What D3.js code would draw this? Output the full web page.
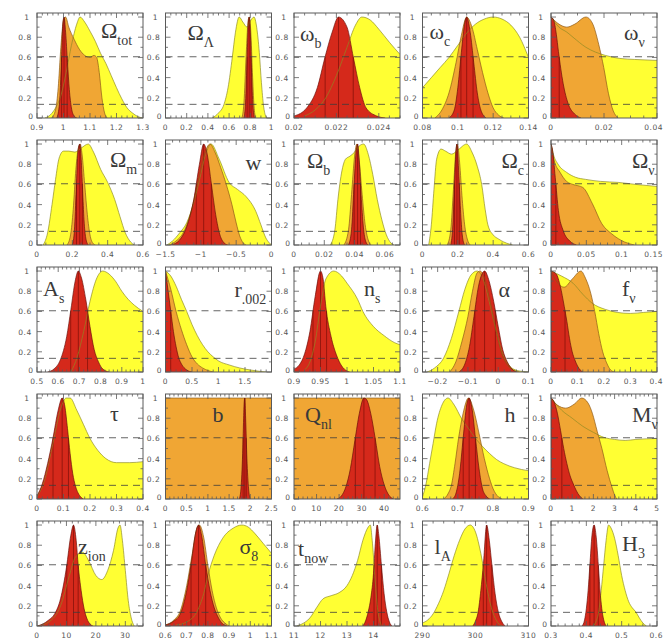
<!DOCTYPE html>
<html><head><meta charset="utf-8">
<script src="https://cdn.jsdelivr.net/npm/d3@7"></script>
<style>body{margin:0;background:#fff}svg{display:block}</style>
</head><body><svg id="chart" width="664" height="644"></svg>
<script>
// ---------- data: 1-D likelihood curves, [parameter value, relative likelihood] ----------
// Row 1
const omTot_y = [[0.93,0],[0.95,0.03],[0.97,0.1],[0.99,0.22],[1.01,0.45],[1.03,0.72],[1.05,0.93],[1.0625,1.0],[1.08,0.95],[1.1,0.86],[1.12,0.76],[1.14,0.64],[1.16,0.54],[1.18,0.42],[1.2,0.3],[1.22,0.19],[1.24,0.1],[1.26,0.05],[1.28,0.015],[1.3,0]];
const omTot_o = [[0.955,0],[0.97,0.08],[0.98,0.3],[0.99,0.7],[1.0,0.97],[1.008,1.0],[1.02,0.9],[1.04,0.78],[1.06,0.68],[1.08,0.62],[1.1,0.6],[1.115,0.62],[1.125,0.6],[1.135,0.45],[1.145,0.2],[1.155,0.05],[1.165,0]];
const omTot_r = [[0.975,0],[0.985,0.15],[0.992,0.55],[0.998,0.95],[1.002,1.0],[1.008,0.85],[1.015,0.55],[1.022,0.28],[1.03,0.1],[1.04,0.02],[1.05,0]];
const omLam_y = [[0.44,0],[0.5,0.05],[0.55,0.13],[0.59,0.3],[0.63,0.6],[0.66,0.85],[0.695,1.0],[0.73,0.95],[0.77,0.9],[0.8,0.96],[0.835,1.0],[0.86,0.9],[0.885,0.65],[0.905,0.35],[0.925,0.12],[0.945,0.02],[0.96,0]];
const omLam_o = [[0.72,0],[0.74,0.15],[0.76,0.6],[0.78,0.97],[0.79,1.0],[0.805,0.85],[0.82,0.45],[0.835,0.12],[0.85,0]];
const omLam_r = [[0.74,0],[0.755,0.15],[0.77,0.6],[0.782,0.95],[0.79,1.0],[0.8,0.85],[0.812,0.45],[0.825,0.12],[0.84,0]];
const wb_y = [[0.0205,0.02],[0.021,0.08],[0.0215,0.2],[0.022,0.42],[0.0225,0.7],[0.0229,0.92],[0.0232,1.0],[0.0236,0.97],[0.024,0.88],[0.0245,0.75],[0.025,0.63]];
const wb_r = [[0.02,0.02],[0.0206,0.1],[0.0211,0.3],[0.02146,0.6],[0.0218,0.85],[0.0221,1.0],[0.0225,0.9],[0.0228,0.6],[0.0231,0.3],[0.0234,0.1],[0.0239,0.02],[0.0243,0]];
const wc_y = [[0.08,0.3],[0.085,0.4],[0.09,0.5],[0.095,0.6],[0.1,0.72],[0.105,0.84],[0.11,0.93],[0.115,0.98],[0.12,1.0],[0.125,0.98],[0.13,0.92],[0.135,0.8],[0.14,0.6]];
const wc_o = [[0.087,0],[0.091,0.08],[0.095,0.25],[0.099,0.55],[0.102,0.82],[0.105,1.0],[0.108,0.9],[0.111,0.68],[0.114,0.45],[0.117,0.25],[0.12,0.1],[0.123,0.03],[0.126,0]];
const wc_r = [[0.095,0],[0.098,0.08],[0.1,0.3],[0.102,0.65],[0.104,0.95],[0.105,1.0],[0.107,0.85],[0.109,0.55],[0.111,0.25],[0.113,0.08],[0.116,0]];
const wnu_y = [[0,1],[0.003,0.9],[0.006,0.85],[0.0083,0.8],[0.0132,0.7],[0.0205,0.62],[0.026,0.59],[0.0315,0.58],[0.04,0.57]];
const wnu_o = [[0,1],[0.003,0.93],[0.006,0.9],[0.009,0.93],[0.0132,1.0],[0.0156,0.94],[0.018,0.73],[0.0199,0.5],[0.0217,0.24],[0.0235,0.07],[0.0254,0]];
const wnu_r = [[0,1],[0.001,0.97],[0.002,0.83],[0.0028,0.66],[0.0046,0.34],[0.0065,0.14],[0.0089,0.04],[0.0113,0]];
// Row 2
const omM_y = [[0.035,0],[0.06,0.12],[0.085,0.4],[0.105,0.65],[0.125,0.86],[0.15,0.93],[0.18,0.93],[0.215,0.92],[0.25,0.96],[0.29,1.0],[0.32,0.92],[0.36,0.75],[0.4,0.62],[0.44,0.45],[0.47,0.28],[0.5,0.12],[0.53,0.03],[0.55,0]];
const omM_o = [[0.17,0],[0.19,0.1],[0.205,0.35],[0.22,0.75],[0.235,0.97],[0.245,1.0],[0.255,0.9],[0.27,0.6],[0.285,0.3],[0.3,0.1],[0.315,0.02],[0.33,0]];
const omM_r = [[0.2,0],[0.212,0.15],[0.222,0.55],[0.232,0.92],[0.242,1.0],[0.25,0.85],[0.258,0.55],[0.266,0.25],[0.276,0.07],[0.29,0]];
const w_y = [[-1.48,0],[-1.4,0.04],[-1.3,0.12],[-1.2,0.22],[-1.1,0.42],[-1.02,0.64],[-0.93,0.9],[-0.855,1.0],[-0.74,0.85],[-0.6,0.62],[-0.48,0.55],[-0.36,0.48],[-0.22,0.33],[-0.15,0.2],[-0.08,0.07],[-0.03,0.02],[0,0]];
const w_o = [[-1.45,0],[-1.35,0.04],[-1.25,0.12],[-1.15,0.3],[-1.05,0.6],[-0.95,0.9],[-0.87,1.0],[-0.8,0.92],[-0.72,0.77],[-0.64,0.6],[-0.56,0.4],[-0.5,0.22],[-0.45,0.09],[-0.4,0.02],[-0.36,0]];
const w_r = [[-1.42,0],[-1.3,0.05],[-1.2,0.18],[-1.1,0.45],[-1.02,0.8],[-0.96,1.0],[-0.91,0.9],[-0.85,0.6],[-0.79,0.3],[-0.73,0.1],[-0.67,0.02],[-0.62,0]];
const omB_y = [[0.024,0],[0.027,0.15],[0.029,0.45],[0.031,0.68],[0.034,0.85],[0.037,0.88],[0.04,0.92],[0.043,0.98],[0.046,1.0],[0.049,0.9],[0.052,0.7],[0.055,0.45],[0.058,0.25],[0.061,0.1],[0.064,0.02],[0.066,0]];
const omB_o = [[0.033,0],[0.036,0.15],[0.038,0.5],[0.04,0.88],[0.0415,1.0],[0.043,0.85],[0.045,0.5],[0.047,0.2],[0.049,0.05],[0.051,0]];
const omB_r = [[0.036,0],[0.038,0.15],[0.0395,0.55],[0.041,0.92],[0.042,1.0],[0.0432,0.8],[0.0445,0.45],[0.046,0.15],[0.0475,0.03],[0.049,0]];
const omC_y = [[0.035,0],[0.05,0.2],[0.065,0.55],[0.08,0.85],[0.105,0.95],[0.13,0.93],[0.165,0.9],[0.2,0.94],[0.25,1.0],[0.28,0.92],[0.31,0.78],[0.335,0.6],[0.355,0.35],[0.37,0.2],[0.4,0.1],[0.43,0.06],[0.46,0.03],[0.49,0.01],[0.51,0]];
const omC_o = [[0.14,0],[0.16,0.15],[0.175,0.55],[0.19,0.95],[0.198,1.0],[0.21,0.82],[0.225,0.45],[0.24,0.18],[0.255,0.05],[0.27,0]];
const omC_r = [[0.16,0],[0.172,0.2],[0.182,0.65],[0.192,0.98],[0.195,1.0],[0.205,0.72],[0.215,0.35],[0.225,0.1],[0.238,0]];
const omNu_y = [[0,1],[0.0037,0.89],[0.01,0.8],[0.022,0.72],[0.035,0.67],[0.049,0.65],[0.07,0.63],[0.095,0.62],[0.12,0.6],[0.15,0.58]];
const omNu_o = [[0,1],[0.004,0.85],[0.0128,0.72],[0.022,0.63],[0.031,0.6],[0.045,0.57],[0.0585,0.41],[0.072,0.21],[0.086,0.11],[0.104,0.03],[0.118,0]];
const omNu_r = [[0,1],[0.002,0.95],[0.006,0.67],[0.0105,0.34],[0.0174,0.14],[0.0265,0.04],[0.036,0]];
// Row 3
const As_y = [[0.66,0],[0.69,0.15],[0.72,0.4],[0.75,0.7],[0.78,0.92],[0.81,1.0],[0.84,0.97],[0.87,0.9],[0.9,0.8],[0.93,0.72],[0.96,0.66],[1.0,0.6]];
const As_r = [[0.55,0],[0.58,0.03],[0.61,0.12],[0.64,0.35],[0.66,0.62],[0.68,0.9],[0.695,1],[0.71,0.93],[0.73,0.72],[0.75,0.45],[0.77,0.22],[0.79,0.1],[0.81,0.03],[0.84,0]];
const r_y = [[0,1],[0.1,0.95],[0.2,0.85],[0.3,0.72],[0.4,0.6],[0.5,0.47],[0.6,0.36],[0.7,0.27],[0.8,0.2],[0.9,0.15],[1.0,0.11],[1.2,0.07],[1.4,0.04],[1.6,0.02],[1.8,0.005],[1.9,0]];
const r_o = [[0,1],[0.1,0.82],[0.2,0.6],[0.3,0.42],[0.4,0.27],[0.5,0.15],[0.6,0.08],[0.7,0.04],[0.8,0.015],[0.9,0]];
const r_r = [[0,1],[0.05,0.8],[0.1,0.6],[0.15,0.4],[0.2,0.25],[0.25,0.14],[0.3,0.08],[0.4,0.02],[0.5,0]];
const ns_y = [[0.92,0.02],[0.93,0.1],[0.94,0.3],[0.95,0.65],[0.96,0.92],[0.975,1],[0.99,0.95],[1.0,0.88],[1.02,0.72],[1.03,0.6],[1.05,0.45],[1.07,0.36],[1.09,0.29],[1.1,0.27]];
const ns_r = [[0.9,0.03],[0.91,0.07],[0.92,0.18],[0.93,0.4],[0.94,0.75],[0.95,1],[0.955,0.92],[0.96,0.65],[0.97,0.35],[0.98,0.17],[0.99,0.06],[1.0,0.01],[1.005,0]];
const alpha_y = [[-0.235,0],[-0.21,0.04],[-0.18,0.14],[-0.155,0.33],[-0.13,0.6],[-0.11,0.82],[-0.09,0.96],[-0.07,1.0],[-0.05,0.92],[-0.03,0.7],[-0.01,0.45],[0.01,0.22],[0.03,0.09],[0.05,0.03],[0.08,0.005],[0.1,0]];
const alpha_o = [[-0.16,0],[-0.14,0.1],[-0.12,0.3],[-0.1,0.55],[-0.085,0.8],[-0.07,0.98],[-0.06,1.0],[-0.045,0.93],[-0.03,0.75],[-0.01,0.45],[0.01,0.2],[0.03,0.07],[0.05,0.02],[0.07,0]];
const alpha_r = [[-0.13,0],[-0.11,0.08],[-0.095,0.25],[-0.08,0.55],[-0.065,0.85],[-0.045,1.0],[-0.03,0.9],[-0.015,0.7],[0.0,0.45],[0.015,0.22],[0.03,0.1],[0.045,0.03],[0.06,0]];
const fnu_y = [[0,1],[0.04,0.95],[0.083,0.88],[0.12,0.77],[0.156,0.68],[0.205,0.62],[0.25,0.59],[0.3,0.58],[0.35,0.59],[0.4,0.6]];
const fnu_o = [[0,1],[0.02,0.9],[0.05,0.84],[0.08,0.92],[0.113,1.0],[0.13,0.93],[0.15,0.78],[0.165,0.6],[0.18,0.38],[0.195,0.2],[0.21,0.09],[0.225,0.02],[0.24,0]];
const fnu_r = [[0,1],[0.02,0.97],[0.035,0.85],[0.05,0.65],[0.06,0.5],[0.07,0.33],[0.08,0.2],[0.09,0.12],[0.1,0.06],[0.11,0.02],[0.12,0]];
// Row 4
const tau_y = [[0,0.02],[0.03,0.2],[0.06,0.55],[0.09,0.9],[0.11,1.0],[0.125,1.0],[0.15,0.88],[0.175,0.74],[0.2,0.6],[0.23,0.48],[0.26,0.4],[0.3,0.36],[0.35,0.36],[0.4,0.37]];
const tau_r = [[0,0.03],[0.02,0.15],[0.04,0.35],[0.06,0.6],[0.08,0.88],[0.095,1],[0.105,0.92],[0.115,0.7],[0.125,0.45],[0.135,0.25],[0.145,0.13],[0.155,0.06],[0.165,0.02],[0.175,0]];
const bias_o = [[0,1],[2.5,1]];
const bias_r = [[1.74,0],[1.78,0.1],[1.82,0.45],[1.855,0.95],[1.87,1],[1.89,0.8],[1.92,0.4],[1.96,0.1],[2.0,0]];
const qnl_o = [[0,1],[47,1]];
const qnl_r = [[19,0],[21,0.03],[23,0.12],[25,0.3],[27,0.58],[29,0.85],[31,1.0],[32,0.99],[34,0.85],[36,0.6],[38,0.32],[40,0.14],[42,0.04],[44,0]];
const h_y = [[0.6,0.02],[0.61,0.15],[0.62,0.35],[0.63,0.55],[0.64,0.75],[0.655,0.93],[0.672,1],[0.69,0.93],[0.71,0.8],[0.73,0.7],[0.75,0.6],[0.77,0.52],[0.79,0.45],[0.81,0.39],[0.83,0.35],[0.86,0.31],[0.9,0.28]];
const h_o = [[0.66,0],[0.672,0.05],[0.682,0.14],[0.692,0.35],[0.702,0.6],[0.715,0.85],[0.73,1.0],[0.745,0.88],[0.76,0.65],[0.775,0.4],[0.79,0.2],[0.8,0.1],[0.815,0.02],[0.825,0]];
const h_r = [[0.685,0],[0.695,0.06],[0.705,0.25],[0.715,0.6],[0.725,0.93],[0.732,1],[0.74,0.9],[0.75,0.6],[0.76,0.3],[0.77,0.1],[0.78,0.03],[0.79,0]];
const mnu_y = [[0,1],[0.5,0.88],[1,0.8],[1.5,0.72],[2,0.66],[2.5,0.61],[3,0.59],[3.5,0.58],[4,0.59],[5,0.6]];
const mnu_o = [[0,1],[0.3,0.93],[0.7,0.9],[1.1,0.94],[1.45,1.0],[1.75,0.95],[1.95,0.85],[2.18,0.67],[2.4,0.5],[2.65,0.28],[2.87,0.12],[3.0,0.04],[3.1,0]];
const mnu_r = [[0,1],[0.15,0.96],[0.3,0.85],[0.45,0.68],[0.6,0.5],[0.75,0.35],[0.9,0.23],[1.05,0.15],[1.2,0.08],[1.35,0.03],[1.5,0]];
// Row 5
const zion_y = [[0,0],[4,0.04],[8,0.2],[11,0.5],[13,0.68],[15.5,0.73],[17.5,0.65],[20,0.5],[22,0.46],[24,0.55],[26,0.75],[27.5,0.97],[28.2,1.0],[29,0.85],[30,0.55],[31,0.25],[32,0.08],[33,0]];
const zion_r = [[0,0],[2,0.02],[4,0.06],[6,0.12],[8,0.27],[10,0.58],[11.5,0.9],[12.4,1.0],[13.3,0.85],[14,0.6],[15,0.35],[16,0.17],[17,0.07],[18,0.02],[19,0]];
const s8_y = [[0.65,0.01],[0.7,0.04],[0.75,0.15],[0.78,0.32],[0.8,0.5],[0.83,0.7],[0.87,0.87],[0.92,0.97],[0.96,1.0],[0.99,0.98],[1.02,0.92],[1.06,0.82],[1.1,0.72]];
const s8_o = [[0.6,0.01],[0.64,0.06],[0.67,0.15],[0.7,0.4],[0.725,0.7],[0.75,0.98],[0.76,1.0],[0.78,0.88],[0.8,0.6],[0.82,0.35],[0.84,0.18],[0.86,0.08],[0.88,0.03],[0.9,0]];
const s8_r = [[0.6,0.01],[0.64,0.05],[0.67,0.12],[0.7,0.35],[0.72,0.6],[0.74,0.9],[0.756,1],[0.77,0.9],[0.79,0.6],[0.81,0.35],[0.83,0.18],[0.85,0.08],[0.87,0.02],[0.89,0]];
const tnow_y = [[11.1,0],[11.3,0.02],[11.6,0.08],[11.85,0.18],[12.1,0.27],[12.4,0.3],[12.7,0.33],[13.0,0.4],[13.2,0.5],[13.4,0.65],[13.6,0.85],[13.8,0.98],[13.88,1.0],[13.95,0.85],[14.05,0.5],[14.15,0.18],[14.25,0.04],[14.32,0]];
const tnow_r = [[13.6,0],[13.7,0.05],[13.8,0.14],[13.9,0.28],[14.0,0.52],[14.07,0.82],[14.14,1.0],[14.2,0.9],[14.3,0.6],[14.4,0.32],[14.5,0.14],[14.6,0.04],[14.7,0]];
const lA_y = [[290,0.03],[291,0.06],[292,0.12],[293,0.22],[294,0.35],[295,0.52],[296,0.7],[297,0.85],[298,0.96],[299,1.0],[300,0.93],[301,0.72],[302,0.42],[303,0.18],[304,0.05],[305,0]];
const lA_r = [[299.5,0],[300,0.05],[300.5,0.14],[301,0.35],[301.5,0.62],[302.1,1.0],[302.6,0.85],[303.1,0.6],[303.7,0.32],[304.3,0.14],[305,0.04],[305.6,0]];
const H3_y = [[0.42,0],[0.428,0.05],[0.435,0.14],[0.442,0.35],[0.449,0.6],[0.456,0.85],[0.463,1.0],[0.47,0.97],[0.48,0.87],[0.49,0.7],[0.5,0.5],[0.51,0.35],[0.52,0.24],[0.53,0.18],[0.54,0.14],[0.55,0.08],[0.56,0.03],[0.57,0]];
const H3_r = [[0.388,0],[0.395,0.06],[0.4,0.17],[0.405,0.35],[0.41,0.6],[0.416,0.9],[0.422,1.0],[0.428,0.88],[0.434,0.6],[0.44,0.3],[0.445,0.14],[0.45,0.05],[0.456,0]];

// panel order (row by row), symbols, ranges and tick values
const symbols   = ["Ω","Ω","ω","ω","ω", "Ω","w","Ω","Ω","Ω", "A","r","n","α","f", "τ","b","Q","h","M", "z","σ","t","l","H"];
const subscripts= ["tot","Λ","b","c","ν", "m","","b","c","ν", "s",".002","s","","ν", "","","nl","","ν", "ion","8","now","A","3"];
const xDomains  = [[0.9,1.3],[0,1],[0.02,0.025],[0.08,0.14],[0,0.04],
                   [0,0.6],[-1.5,0],[0,0.07],[0,0.6],[0,0.15],
                   [0.5,1],[0,2],[0.9,1.1],[-0.25,0.1],[0,0.4],
                   [0,0.4],[0,2.5],[0,47],[0.6,0.9],[0,5],
                   [0,36],[0.6,1.1],[11,15],[290,310],[0.3,0.6]];
const xTickValues = [[0.9,1,1.1,1.2,1.3],[0,0.2,0.4,0.6,0.8,1],[0.02,0.022,0.024],[0.08,0.1,0.12,0.14],[0,0.02,0.04],
                     [0,0.2,0.4,0.6],[-1.5,-1,-0.5,0],[0,0.02,0.04,0.06],[0,0.2,0.4,0.6],[0,0.05,0.1,0.15],
                     [0.5,0.6,0.7,0.8,0.9,1],[0,0.5,1,1.5],[0.9,0.95,1,1.05,1.1],[-0.2,-0.1,0,0.1],[0,0.1,0.2,0.3,0.4],
                     [0,0.1,0.2,0.3,0.4],[0,0.5,1,1.5,2,2.5],[0,10,20,30,40],[0.6,0.7,0.8,0.9],[0,1,2,3,4,5],
                     [0,10,20,30],[0.6,0.7,0.8,0.9,1,1.1],[11,12,13,14],[290,300,310],[0.3,0.4,0.5,0.6]];
const yellowCurves = [omTot_y,omLam_y,wb_y,wc_y,wnu_y, omM_y,w_y,omB_y,omC_y,omNu_y, As_y,r_y,ns_y,alpha_y,fnu_y, tau_y,null,null,h_y,mnu_y, zion_y,s8_y,tnow_y,lA_y,H3_y];
const orangeCurves = [omTot_o,omLam_o,null,wc_o,wnu_o, omM_o,w_o,omB_o,omC_o,omNu_o, null,r_o,null,alpha_o,fnu_o, null,bias_o,qnl_o,h_o,mnu_o, null,s8_o,null,null,null];
const redCurves    = [omTot_r,omLam_r,wb_r,wc_r,wnu_r, omM_r,w_r,omB_r,omC_r,omNu_r, As_r,r_r,ns_r,alpha_r,fnu_r, tau_r,bias_r,qnl_r,h_r,mnu_r, zion_r,s8_r,tnow_r,lA_r,H3_r];
const yTickValues = [0,0.2,0.4,0.6,0.8,1];
const sigmaLevels = [Math.exp(-0.5), Math.exp(-2)];   // 1σ and 2σ likelihood ratios

// ---------- layout ----------
const SVG_W = 664;
const PW = 106, PH = 105, LEFT0 = 37, TOP0 = 13, COLSTEP = 128.5, ROWSTEP = 127;
// symbol placement inside each panel: [dx from left, baseline from top]
const titlePos = [[64,25],[22,27],[6,28],[7,26],[73,27],
                  [73,27],[80,30],[13,28],[79,28],[81,28],
                  [6,29],[69,30],[70,29],[76,30],[71,29],
                  [73,27],[47,28],[11,28],[82,28],[81,28],
                  [41,33],[74,33],[4,35],[12,33],[71,30]];

const COL = {yellow:"#ffff33", orange:"#f0a634", red:"#d5291b",
             yellowLine:"#8d8a22", orangeLine:"#8a5816", redLine:"#6a0e08"};

const svg = d3.select("#chart");
const y = d3.scaleLinear().domain([0, 1.04]).range([PH, 0]);

function fmt(v){
  const s = String(+v.toFixed(5));
  return s.replace("-", "\u2212");
}
function valueAt(curve, xv){
  for (let k = 1; k < curve.length; k++){
    const [x0,y0] = curve[k-1], [x1,y1] = curve[k];
    if (xv >= x0 && xv <= x1) return y0 + (y1-y0)*(xv-x0)/(x1-x0);
  }
  return 0;
}
// peak and 1σ crossings of a curve
function markers(curve){
  let iMax = 0;
  curve.forEach((d,i)=>{ if (d[1] > curve[iMax][1]) iMax = i; });
  const lvl = sigmaLevels[0], out = [curve[iMax][0]];
  for (let k = 1; k <= iMax; k++){
    const [x0,y0] = curve[k-1], [x1,y1] = curve[k];
    if (y0 < lvl && y1 >= lvl){ out.push(x0 + (lvl-y0)*(x1-x0)/(y1-y0)); break; }
  }
  for (let k = iMax+1; k < curve.length; k++){
    const [x0,y0] = curve[k-1], [x1,y1] = curve[k];
    if (y0 >= lvl && y1 < lvl){ out.push(x0 + (y0-lvl)*(x1-x0)/(y0-y1)); break; }
  }
  return out;
}
function minorStep(step){
  const e = Math.pow(10, Math.floor(Math.log10(step) + 1e-9));
  const lead = Math.round(step / e);
  return lead === 2 ? step/4 : step/5;
}

symbols.forEach((sym, i) => {
  const col = i % 5, row = Math.floor(i / 5);
  const gx = LEFT0 + col*COLSTEP, gy = TOP0 + row*ROWSTEP;
  const g = svg.append("g").attr("transform", `translate(${gx},${gy})`);
  const x = d3.scaleLinear().domain(xDomains[i]).range([0, PW]);

  g.append("clipPath").attr("id", "clip" + i)
    .append("rect").attr("width", PW).attr("height", PH);
  const plot = g.append("g").attr("clip-path", `url(#clip${i})`);

  const area = d3.area().x(d => x(d[0])).y0(y(0)).y1(d => y(d[1])).curve(d3.curveMonotoneX);
  const line = d3.line().x(d => x(d[0])).y(d => y(d[1])).curve(d3.curveMonotoneX);

  const layers = [[yellowCurves[i], COL.yellow, COL.yellowLine],
                  [orangeCurves[i], COL.orange, COL.orangeLine],
                  [redCurves[i], COL.red, COL.redLine]];
  layers.forEach(([c, fill]) => { if (c) plot.append("path").datum(c).attr("d", area).attr("fill", fill); });

  // median and 1σ lines under the red curve
  const rc = redCurves[i];
  markers(rc).forEach(xv => {
    plot.append("line").attr("x1", x(xv)).attr("x2", x(xv))
      .attr("y1", y(0)).attr("y2", y(valueAt(rc, xv)))
      .attr("stroke", "#7d1008").attr("stroke-width", 0.7);
  });

  layers.forEach(([c, , stroke]) => {
    if (c) plot.append("path").datum(c).attr("d", line).attr("fill", "none")
      .attr("stroke", stroke).attr("stroke-width", 0.8).attr("stroke-opacity", 0.85);
  });

  // 1σ / 2σ reference levels
  sigmaLevels.forEach(l => {
    plot.append("line").attr("x1", 0).attr("x2", PW).attr("y1", y(l)).attr("y2", y(l))
      .attr("stroke", "#3c3c3c").attr("stroke-width", 0.8).attr("stroke-dasharray", "7,5");
  });

  // frame
  g.append("rect").attr("width", PW).attr("height", PH)
    .attr("fill", "none").attr("stroke", "#5a5a5a").attr("stroke-width", 1);

  // ticks (inward on all four sides)
  const ticks = xTickValues[i];
  const step = ticks[1] - ticks[0];
  const mstep = minorStep(step);
  const [d0, d1] = xDomains[i];
  const minors = d3.range(Math.ceil(d0/mstep - 1e-6), Math.floor(d1/mstep + 1e-6) + 1).map(k => k*mstep);
  const tk = g.append("g").attr("stroke", "#5a5a5a").attr("stroke-width", 0.8);
  minors.forEach(v => {
    const isMajor = ticks.some(t => Math.abs(t - v) < mstep*0.01);
    const len = isMajor ? 5 : 2.5;
    tk.append("line").attr("x1", x(v)).attr("x2", x(v)).attr("y1", PH).attr("y2", PH - len);
    tk.append("line").attr("x1", x(v)).attr("x2", x(v)).attr("y1", 0).attr("y2", len);
  });
  d3.range(0, 1.001, 0.1).forEach(v => {
    const len = Math.round(v*10) % 2 === 0 ? 5 : 2.5;
    tk.append("line").attr("x1", 0).attr("x2", len).attr("y1", y(v)).attr("y2", y(v));
    tk.append("line").attr("x1", PW).attr("x2", PW - len).attr("y1", y(v)).attr("y2", y(v));
  });

  // tick labels
  const lab = g.append("g").attr("font-family", "DejaVu Sans, sans-serif").attr("font-size", 7.5)
    .attr("fill", "#555").attr("letter-spacing", 0.5);
  ticks.forEach(v => {
    const t = lab.append("text").attr("x", x(v)).attr("y", PH + 12).attr("text-anchor", "middle").text(fmt(v));
    // keep labels at the right border inside the page
    const half = t.node().getComputedTextLength() / 2;
    const maxX = SVG_W - 1 - gx;
    if (x(v) + half > maxX) t.attr("text-anchor", "end").attr("x", maxX);
  });
  yTickValues.forEach(v => {
    const xx = v === 0 ? -6 : (v === 1 ? -10 : -12);
    lab.append("text").attr("x", xx).attr("y", v === 0 ? y(v) + 1 : y(v) + 3)
      .attr("text-anchor", "middle").text(fmt(v));
  });

  // parameter symbol
  const [tx, ty] = titlePos[i];
  const t = g.append("text").attr("x", tx).attr("y", ty)
    .attr("font-family", "Liberation Serif, serif").attr("fill", "#3a3a3a");
  t.append("tspan").attr("font-size", 22).text(sym);
  if (subscripts[i]) t.append("tspan").attr("font-size", 14).attr("dy", 7).text(subscripts[i]);
  // keep the symbol block inside the page
  const over = gx + t.node().getBBox().x + t.node().getBBox().width - (SVG_W - 2);
  if (over > 0) t.attr("x", tx - over);
});
</script>
</body></html>
